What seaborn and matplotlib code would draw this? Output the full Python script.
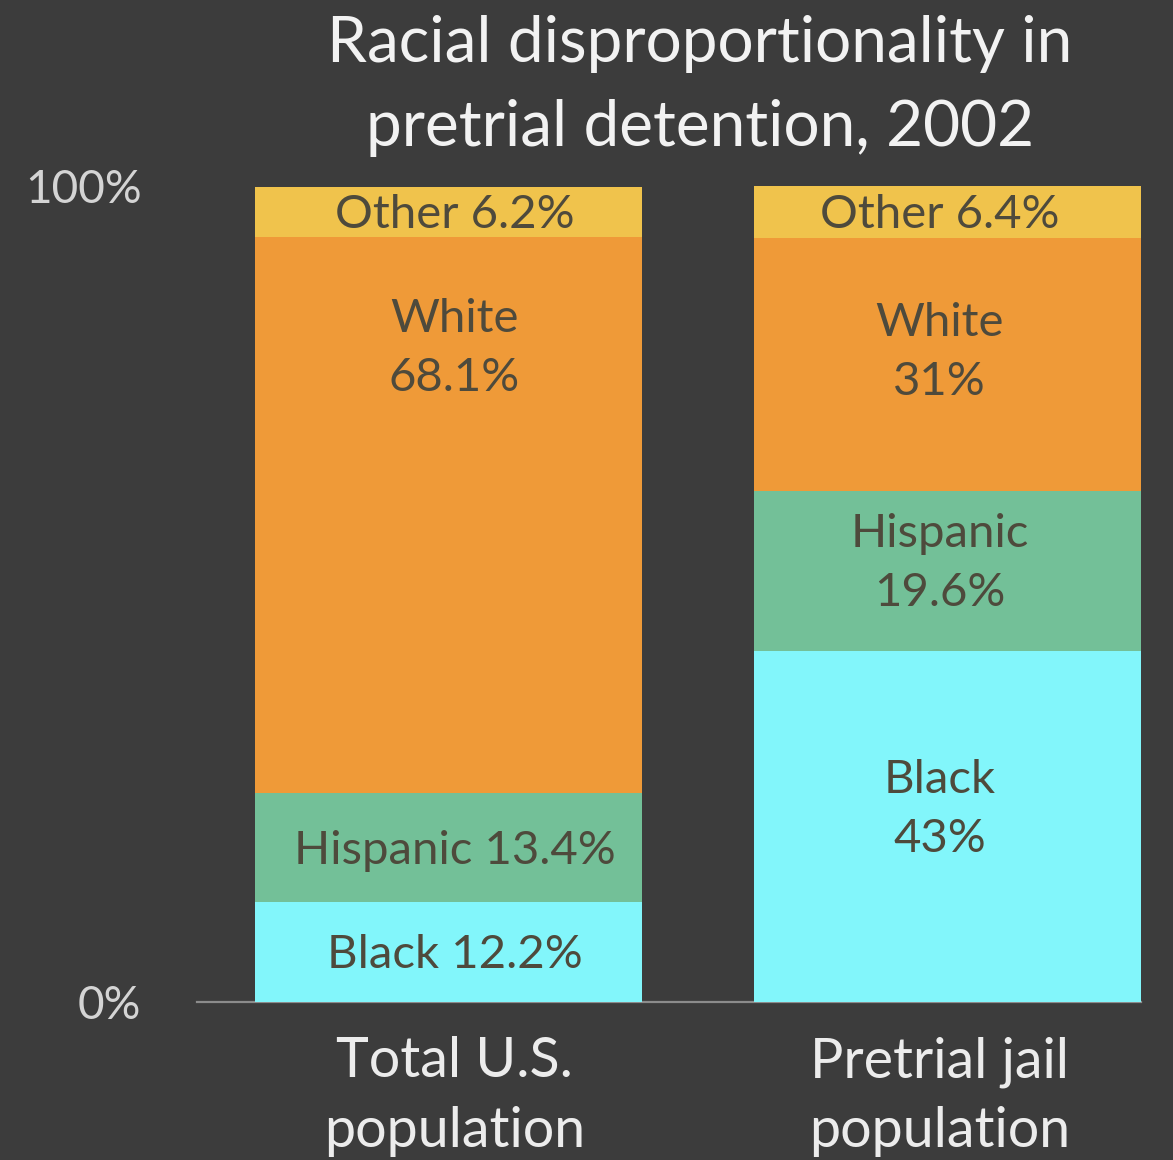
import matplotlib
matplotlib.use("Agg")
import matplotlib.pyplot as plt
import seaborn as sns
import pandas as pd
import numpy as np

# ---- data ----
categories = ["Total U.S.\npopulation", "Pretrial jail\npopulation"]
races = ["Black", "Hispanic", "White", "Other"]
black = [12.2, 43.0]
hispanic = [13.4, 19.6]
white = [68.1, 31.0]
other = [6.2, 6.4]
y_ticks = [0, 100]
y_tick_labels = ["0%", "100%"]
title = "Racial disproportionality in\npretrial detention, 2002"

# label text per (category index, race)
label_text = {
    (0, "Black"): "Black 12.2%",
    (0, "Hispanic"): "Hispanic 13.4%",
    (0, "White"): "White\n68.1%",
    (0, "Other"): "Other 6.2%",
    (1, "Black"): "Black\n43%",
    (1, "Hispanic"): "Hispanic\n19.6%",
    (1, "White"): "White\n31%",
    (1, "Other"): "Other 6.4%",
}

# ---- style ----
BG = "#3c3c3c"
colors = {"Black": "#82f6fb", "Hispanic": "#73c098", "White": "#ef9a38", "Other": "#f0c34c"}
TXT_DARK = "#4e4a3c"
FONT = ["Lato", "DejaVu Sans"]
x_nudge = [0.012, -0.016]  # small horizontal text nudges per bar

sns.set_theme(style="white")
plt.rcParams["font.family"] = FONT

values = {"Black": black, "Hispanic": hispanic, "White": white, "Other": other}
rows = []
for i, c in enumerate(categories):
    cum = 0.0
    for r in races:
        v = values[r][i]
        rows.append({"category": c, "race": r, "value": v, "bottom": cum, "top": cum + v})
        cum += v
df = pd.DataFrame(rows)

fig = plt.figure(figsize=(11.73, 11.6), dpi=100, facecolor=BG)
ax = fig.add_axes([197 / 1173, 158 / 1160, (1141 - 197) / 1173, (1002 - 186) / 1160])
ax.set_facecolor(BG)

bar_w = 0.775
# draw stacked bars: tallest cumulative first
for r in reversed(races):
    sub = df[df["race"] == r]
    sns.barplot(data=sub, x="category", y="top", order=categories, color=colors[r],
                width=bar_w, saturation=1, ax=ax, linewidth=0, errorbar=None)

for _, row in df.iterrows():
    i = categories.index(row["category"])
    key = (i, row["race"])
    mid = (row["bottom"] + row["top"]) / 2
    if key == (0, "White"):
        y = row["top"] - 13.6
    elif "\n" in label_text[key]:
        y = mid + 0.05 * row["value"]
    else:
        y = mid - 0.4
    ax.text(i + x_nudge[i], y, label_text[key], ha="center", va="center", color=TXT_DARK,
            fontsize=34, linespacing=1.5, family=FONT)

ax.set_xlim(-0.504, 1 + bar_w / 2)
ax.set_ylim(0, 100)
ax.set_yticks(y_ticks)
ax.set_yticklabels(y_tick_labels, fontsize=33, color="#d4d4d4")
ax.tick_params(axis="y", length=0, pad=40)
ax.tick_params(axis="x", length=0, pad=24)
ax.set_xticks(range(len(categories)))
ax.set_xticklabels([])
for i, c in enumerate(categories):
    ax.text(i + x_nudge[i], -4.2, c, ha="center", va="top", fontsize=40, color="#ececec",
            linespacing=1.45, family=FONT, clip_on=False)
ax.set_xlabel("")
ax.set_ylabel("")
for s in ["top", "right", "left"]:
    ax.spines[s].set_visible(False)
ax.spines["bottom"].set_color("#8c8c8c")
ax.spines["bottom"].set_linewidth(1.6)
ax.spines["bottom"].set_zorder(0)

fig.text(700 / 1173, 1 - 86 / 1160, title, ha="center", va="center", color="#f2f2f2",
         fontsize=46, linespacing=1.55, family=FONT)

fig.savefig("out.png", dpi=100, facecolor=BG)
